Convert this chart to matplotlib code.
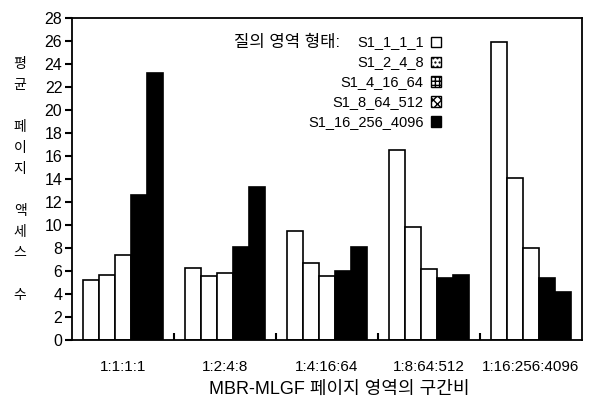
import matplotlib.pyplot as plt
from matplotlib.patches import Rectangle
import numpy as np

plt.rcParams['font.family'] = ['Liberation Sans', 'Noto Sans CJK KR']

# 데이터
categories = ['1:1:1:1', '1:2:4:8', '1:4:16:64', '1:8:64:512', '1:16:256:4096']
series_names = ['S1_1_1_1', 'S1_2_4_8', 'S1_4_16_64', 'S1_8_64_512', 'S1_16_256_4096']
s1_1_1_1 = [5.2, 6.3, 9.5, 16.5, 25.9]
s1_2_4_8 = [5.7, 5.6, 6.7, 9.8, 14.1]
s1_4_16_64 = [7.4, 5.8, 5.6, 6.2, 8.0]
s1_8_64_512 = [12.6, 8.1, 6.0, 5.4, 5.4]
s1_16_256_4096 = [23.2, 13.3, 8.1, 5.7, 4.2]
series = [s1_1_1_1, s1_2_4_8, s1_4_16_64, s1_8_64_512, s1_16_256_4096]

bar_colors = ['white', 'white', 'white', 'black', 'black']
legend_hatch = ['', '....', '++++', 'xxxx', '']
legend_fill = ['white', 'white', 'white', 'white', 'black']

fig = plt.figure(figsize=(5.9, 4.05), dpi=100)
ax = fig.add_axes([0.122, 0.160, 0.864, 0.796])

x = np.arange(len(categories))
w = 0.157
for i, vals in enumerate(series):
    ax.bar(x + (i - 2) * w, vals, width=w, color=bar_colors[i],
           edgecolor='black', linewidth=1.2)

ax.set_xlim(-0.5, 4.5)
ax.set_ylim(0, 28)
ax.set_yticks(range(0, 29, 2))
ax.set_xticks(x)
ax.set_xticklabels(categories, fontsize=11)
ax.set_xticks(x[:-1] + 0.5, minor=True)
ax.tick_params(axis='x', which='major', length=0, pad=14)
ax.tick_params(axis='x', which='minor', direction='in', length=5, width=1.5)
ax.tick_params(axis='y', direction='out', length=5, width=1.5, labelsize=11.5, pad=2)
for s in ax.spines.values():
    s.set_linewidth(1.3)

ax.set_xlabel('MBR-MLGF 페이지 영역의 구간비', fontsize=13)
ax.xaxis.set_label_coords(0.525, -0.125)

# 세로 축 제목 (글자를 세로로 쌓기)
fig.text(0.034, 0.86, '평\n균\n\n페\n이\n지\n\n액\n세\n스\n\n수',
         fontsize=10, va='top', ha='center', linespacing=1.64)

# 범례 (수동)
trans = ax.transAxes
y0 = 0.925
dy = 0.062
for i, name in enumerate(series_names):
    yy = y0 - i * dy
    ax.text(0.69, yy, name, transform=trans, ha='right', va='center', fontsize=10.5)
    ax.add_patch(Rectangle((0.705, yy - 0.017), 0.019, 0.034, transform=trans,
                           facecolor=legend_fill[i], edgecolor='black',
                           hatch=legend_hatch[i], linewidth=1.0, clip_on=False))
ax.text(0.526, y0, '질의 영역 형태:', transform=trans, ha='right', va='center', fontsize=12)

fig.savefig('out.png', dpi=100)
